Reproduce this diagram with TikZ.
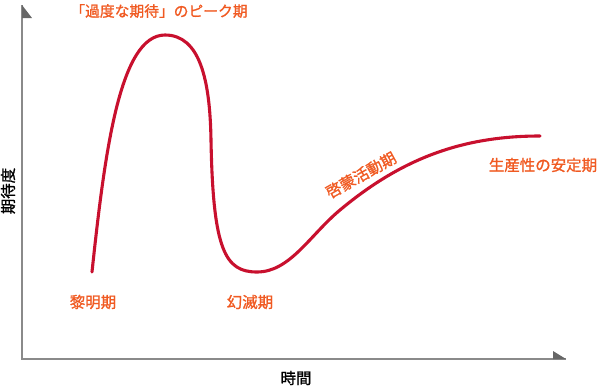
\documentclass[tikz,border=0pt]{standalone}
\usepackage{fontspec}
\setmainfont{Noto Sans CJK JP}[FakeBold=1.2]
\usepackage{tikz}
\usetikzlibrary{positioning, calc}

\definecolor{hyperred}{HTML}{C8102E}
\definecolor{phaseorange}{HTML}{F05A22}
\definecolor{axisgray}{HTML}{8A8A8A}

\begin{document}
\begin{tikzpicture}[x=0.025cm, y=-0.025cm, font=\fontsize{11pt}{13pt}\selectfont]
    \tikzset{
        axis/.style={draw=axisgray, line width=0.9pt},
        axishead/.style={fill=black!60, draw=none},
        phase/.style={text=phaseorange, inner sep=1pt},
        axlabel/.style={text=black, inner sep=1pt},
        hype/.style={draw=hyperred, line width=2.2pt, line cap=round},
    }
    \useasboundingbox (0,0) rectangle (600,389);

    % axes
    \coordinate (origin) at (22,359);
    \coordinate (ytop) at (22,5);
    \coordinate (xend) at (566,359);
    \draw[axis] (ytop) -- (origin) -- (xend);
    \fill[axishead] (ytop) -- (32,18) -- (22,18) -- cycle;
    \fill[axishead] (xend) -- (553,351) -- (553,359) -- cycle;

    \node[axlabel, rotate=90] (expect) at (8,191) {期待度};
    \node[axlabel] (time) at (296,378) {時間};

    % hype curve
    \draw[hype] (92,272) .. controls (105,150) and (120,35) .. (165,35)
        .. controls (200,35) and (210,80) .. (211,140)
        .. controls (213,250) and (225,272) .. (257,272)
        .. controls (290,272) and (310,235) .. (340,210)
        .. controls (400,160) and (460,136) .. (540,136);

    \node[phase, font=\fontsize{10.5pt}{12pt}\selectfont] (peak) at (159,11) {「過度な期待」のピーク期};
    \node[phase] (trigger) at (93,302) {黎明期};
    \node[phase] (trough) at (250,302) {幻滅期};
    \node[phase, rotate=29] (slope) at (361,175) {啓蒙活動期};
    \node[phase] (plateau) at (543,165) {生産性の安定期};
\end{tikzpicture}
\end{document}
